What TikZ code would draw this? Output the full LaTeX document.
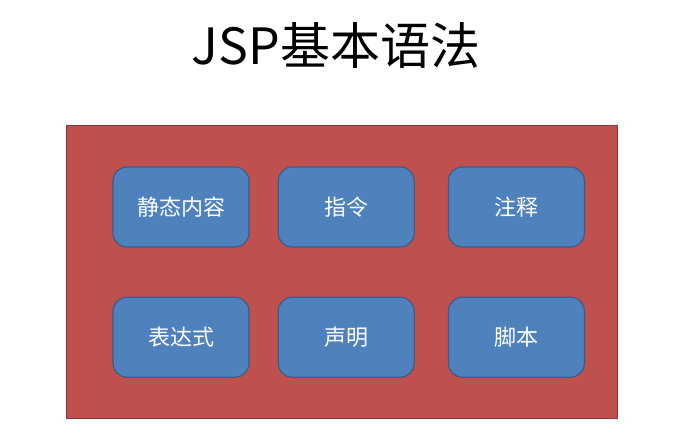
\documentclass[tikz,border=0pt]{standalone}
\usepackage{fontspec}
\setmainfont{Noto Sans CJK SC}
\usetikzlibrary{positioning}
\definecolor{panelRed}{RGB}{192,80,77}
\definecolor{panelEdge}{RGB}{140,56,54}
\definecolor{itemBlue}{RGB}{79,129,189}
\definecolor{itemEdge}{RGB}{56,93,138}

\begin{document}
\begin{tikzpicture}[x=1pt,y=1pt,every node/.style={align=center},
  item/.style={draw=itemEdge,line width=1.2pt,rounded corners=14pt,fill=itemBlue,text=white,
    minimum width=136pt,minimum height=80pt,inner sep=0pt,font=\fontsize{22}{26}\selectfont}]
\useasboundingbox (0,0) rectangle (692,444);
\node[font=\fontsize{50}{56}\selectfont] (title) at (336,398) {JSP基本语法};
\draw[draw=panelEdge,fill=panelRed,line width=1pt] (66,26) rectangle (617,318);
\node[item] (a) at (181,237) {静态内容};
\node[item,right=28pt of a] (b) {指令};
\node[item,right=33pt of b] (c) {注释};
\node[item,below=49pt of a] (d) {表达式};
\node[item,below=49pt of b] (e) {声明};
\node[item,below=49pt of c] (f) {脚本};
\end{tikzpicture}
\end{document}
